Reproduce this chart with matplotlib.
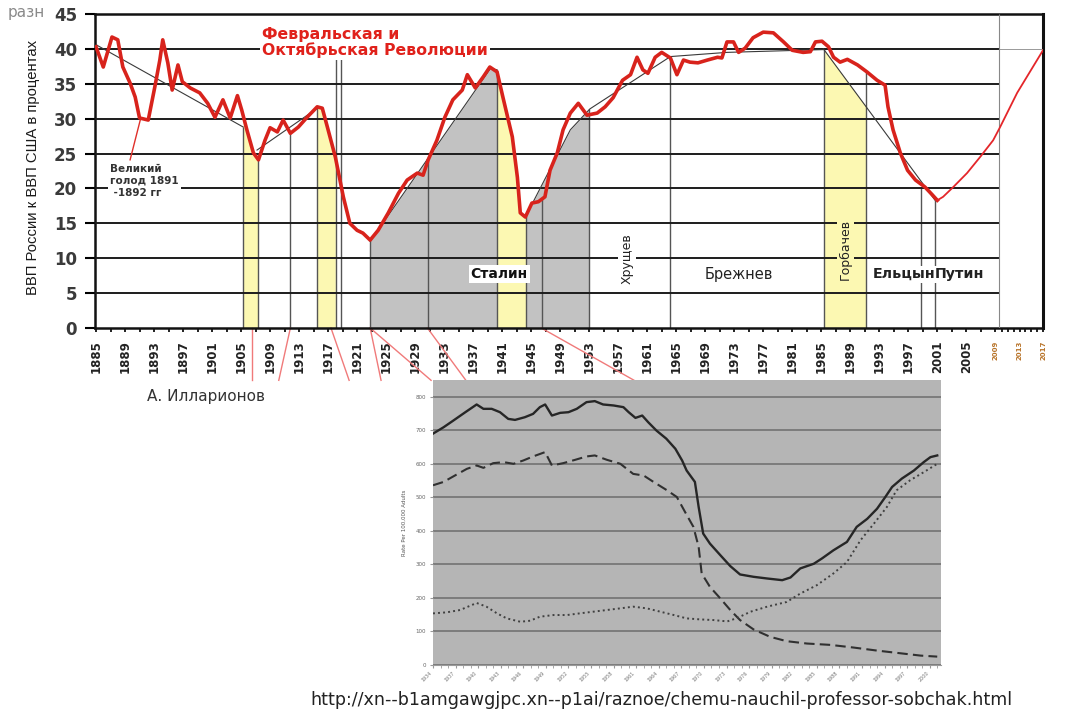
import numpy as np
import matplotlib.pyplot as plt

# --- top chart: GDP of Russia as % of US GDP (A. Illarionov) ---
ru_years = [1885, 1886, 1887.2, 1888, 1888.7, 1889.7, 1890.4, 1891, 1892.2, 1893.1,
            1893.8, 1894.2, 1894.9, 1895.5, 1896.3, 1896.9, 1898, 1899.3, 1900.4, 1901.4,
            1902.5, 1903.5, 1904.5, 1905.1, 1905.8, 1906.7, 1907.4, 1908.3, 1909, 1910,
            1910.8, 1911.8, 1912.9, 1914.1, 1915.5, 1916.2, 1916.9, 1918, 1919.1, 1920,
            1921, 1921.8, 1922.8, 1923.9, 1925.3, 1926.7, 1927.9, 1929.3, 1930.1, 1930.8,
            1932, 1933.1, 1934.2, 1935.5, 1936.2, 1937.3, 1938.4, 1939.3, 1940.3, 1941.1,
            1942.4, 1943.1, 1943.5, 1944.2, 1945.1, 1946, 1946.9, 1947.6, 1948.6, 1949.4,
            1950.4, 1951.5, 1952.7, 1954.1, 1955.2, 1956.3, 1957.6, 1958.7, 1959.6, 1960.4,
            1961.1, 1962.1, 1963, 1964.2, 1965.1, 1966, 1966.9, 1968, 1969.3, 1970.7,
            1971.3, 1972, 1972.9, 1973.6, 1974.5, 1975.6, 1977, 1978.4, 1979.8, 1981,
            1982.5, 1983.5, 1984.2, 1985.1, 1986, 1986.7, 1987.6, 1988.6, 1990, 1991.3,
            1992.7, 1993.8, 1994.2, 1994.9, 1995.9, 1996.9, 1998, 1999.3, 2000.3, 2001]
ru_vals = [40.3, 37.4, 41.7, 41.3, 37.4, 35.1, 33.1, 30.1, 29.8, 34.5,
           38.4, 41.3, 38.0, 34.1, 37.7, 35.3, 34.4, 33.7, 32.2, 30.2,
           32.7, 30.1, 33.3, 31.2, 28.4, 25.1, 24.1, 26.9, 28.7, 28.1,
           29.8, 27.9, 28.8, 30.2, 31.7, 31.5, 28.8, 24.5, 18.8, 15.0,
           14.0, 13.6, 12.6, 14.0, 16.5, 19.3, 21.2, 22.2, 21.9, 24.1,
           26.9, 30.2, 32.7, 34.1, 36.3, 34.4, 36.0, 37.4, 36.7, 33.1,
           27.4, 21.6, 16.5, 15.9, 17.9, 18.1, 18.8, 22.6, 25.1, 28.4,
           30.8, 32.2, 30.5, 30.8, 31.7, 33.0, 35.5, 36.3, 38.8, 37.0,
           36.5, 38.8, 39.5, 38.7, 36.3, 38.4, 38.1, 38.0, 38.4, 38.8,
           38.7, 41.0, 41.0, 39.5, 40.1, 41.6, 42.4, 42.3, 41.0, 39.8,
           39.5, 39.6, 41.0, 41.1, 40.3, 38.8, 38.1, 38.5, 37.7, 36.7,
           35.5, 34.8, 31.7, 28.4, 25.1, 22.6, 21.2, 20.2, 19.1, 18.3]
ru_years_late = [2001, 2001.8, 2003.2, 2005.1, 2006.9, 2008.7, 2009.7, 2012.6, 2017]
ru_vals_late = [18.3, 18.8, 20.2, 22.2, 24.5, 26.9, 28.8, 33.7, 39.8]

# trend lines (year list, value list)
trend_1 = ([1885, 1905.3], [40.6, 28.8])
trend_2 = ([1907.2, 1915.8], [25.5, 31.7])
trend_3 = ([1922.8, 1939.4, 1940.3], [12.4, 37.2, 37.0])
trend_4 = ([1944.2, 1950.4, 1953.1, 1964.2, 1972, 1985.3], [15.9, 28.4, 31.4, 38.9, 39.5, 39.9])
trend_6 = ([1985.3, 2000.7], [40.0, 18.3])

yellow_under_red = [(1905.3, 1907.3), (1915.5, 1918.0), (1940.3, 1944.3)]
yellow_under_trend = [(1985.4, 1991.2)]
grey_spans = [(1922.8, 1940.3, trend_3), (1944.3, 1953.0, trend_4)]

event_years = [1905.3, 1907.3, 1911.8, 1915.5, 1918.1, 1918.8, 1922.8, 1930.8, 1940.3,
               1944.3, 1946.5, 1953.0, 1964.2, 1985.4, 1991.2, 1998.7, 2000.7]
event_tops = [28.8, 24.5, 28.0, 31.7, 38.7, 38.7, 12.6, 24.0, 37.0,
              16.0, 18.5, 31.4, 39.0, 40.0, 36.7, 20.0, 18.3]

connector_top = [1906.5, 1911.8, 1917.4, 1922.8, 1922.8, 1930.7, 1946.4]
connector_bottom = [1906.5, 1910.2, 1919.9, 1924.3, 1931.2, 1936.0, 1959.2]

main_labels = list(range(1885, 2006, 4))
late_labels = [2009, 2013, 2017]

# --- bottom chart: rate per 100,000 adults ---
sol_x = [1934, 1935.4, 1936.7, 1938.3, 1939.8, 1940.7, 1941.8, 1942.9, 1944, 1944.9,
         1946.2, 1947.3, 1948.2, 1948.9, 1949.8, 1950.9, 1952, 1953.1, 1954.4, 1955.5,
         1956.6, 1958, 1959.3, 1960, 1960.9, 1961.8, 1962.6, 1963.7, 1965, 1966.2,
         1967.1, 1967.7, 1968.8, 1969.3, 1969.9, 1970.8, 1972.2, 1973.5, 1974.8, 1976.6,
         1978.4, 1980.4, 1981.5, 1982.8, 1984.6, 1985.7, 1987.2, 1989, 1990.3, 1991.7,
         1993, 1994.1, 1995, 1996.3, 1997.9, 1999.2, 2000.1, 2001]
sol_y = [690, 709, 729, 754, 777, 764, 764, 754, 734, 731,
         739, 749, 769, 777, 744, 752, 754, 764, 784, 787,
         777, 774, 769, 754, 737, 744, 724, 699, 675, 645,
         610, 580, 546, 471, 392, 362, 327, 295, 270, 263,
         258, 253, 261, 288, 302, 318, 342, 367, 412, 436,
         466, 501, 531, 556, 580, 605, 620, 625]
dash_x = [1934, 1935.4, 1936.9, 1938.5, 1939.8, 1940.7, 1942, 1943.4, 1944.7, 1946,
          1947.3, 1948.9, 1949.8, 1951.3, 1952.9, 1954.4, 1955.5, 1957.1, 1958.9, 1960.6,
          1962, 1963.3, 1965.1, 1966.4, 1967.5, 1968.6, 1969.3, 1969.7, 1970.8, 1972.2,
          1973.5, 1974.8, 1976.6, 1978.8, 1981, 1983.7, 1986.8, 1989.9, 1993, 1996.1,
          1998.8, 2001]
dash_y = [536, 546, 565, 585, 595, 588, 602, 605, 600, 610,
          622, 635, 595, 602, 612, 622, 625, 612, 600, 570,
          565, 546, 521, 501, 456, 412, 352, 273, 233, 198,
          164, 134, 106, 84, 71, 64, 60, 52, 43, 35,
          28, 25]
dot_x = [1934, 1935.8, 1937.6, 1939.8, 1941.1, 1942.5, 1943.8, 1945.6, 1946.9, 1948.2,
         1950, 1951.8, 1953.5, 1955.3, 1957.1, 1958.9, 1960.6, 1962.4, 1964.2, 1966,
         1967.7, 1969.5, 1971.3, 1973.1, 1974.4, 1976.2, 1978.4, 1981, 1982.8, 1985,
         1987.2, 1989, 1990.8, 1992.6, 1994.3, 1995.6, 1997.4, 1999.2, 2001]
dot_y = [154, 157, 164, 185, 174, 154, 139, 129, 132, 144,
         149, 149, 154, 159, 164, 169, 174, 169, 159, 149,
         139, 136, 134, 130, 140, 159, 174, 188, 213, 238,
         273, 307, 372, 422, 471, 521, 551, 575, 600]
bottom_labels = list(range(1934, 2001, 3))

RED = '#d8231c'
YELLOW = '#fcf8b2'
GREY_FILL = '#c2c2c2'
EVENT = '#555555'

# the last years are squeezed on the x axis
SPLIT = 2009.5
K = 0.81


def fwd(x):
    x = np.asarray(x, dtype=float)
    return np.where(x <= SPLIT, x, SPLIT + (x - SPLIT) * K)


def inv(x):
    x = np.asarray(x, dtype=float)
    return np.where(x <= SPLIT, x, SPLIT + (x - SPLIT) / K)


fig = plt.figure(figsize=(10.68, 7.11), dpi=100)
W, H = 1068, 711

ax = fig.add_axes([95 / W, (H - 328) / H, 948 / W, 314 / H])
ax.set_xscale('function', functions=(fwd, inv))
ax.set_xlim(1884.86, 2017)
ax.set_ylim(0, 45)

# fills
for a, b in yellow_under_red:
    xs = np.linspace(a, b, 40)
    ax.fill_between(xs, 0, np.interp(xs, ru_years, ru_vals), color=YELLOW, lw=0, zorder=1)
for a, b in yellow_under_trend:
    xs = np.linspace(a, b, 40)
    ax.fill_between(xs, 0, np.interp(xs, *trend_6), color=YELLOW, lw=0, zorder=1)
for a, b, tr in grey_spans:
    xs = np.linspace(a, b, 60)
    ax.fill_between(xs, 0, np.interp(xs, *tr), color=GREY_FILL, lw=0, zorder=1)

# grid
ax.hlines(range(5, 45, 5), 1884.86, SPLIT, color='#1c1c1c', lw=1.4, zorder=3)
ax.hlines(40, SPLIT, 2017, color='#999999', lw=0.7, zorder=3)
ax.vlines(SPLIT, 0, 45, color='#888888', lw=0.8, zorder=3)

# event lines
ax.vlines(event_years, 0, event_tops, color=EVENT, lw=1.0, zorder=2)

# trend lines
for tr in (trend_1, trend_2, trend_3, trend_4, trend_6):
    ax.plot(tr[0], tr[1], color='#3a3a3a', lw=0.8, zorder=4)

# red series
ax.plot(ru_years, ru_vals, color=RED, lw=2.6, zorder=6, solid_joinstyle='round')
ax.plot(ru_years_late, ru_vals_late, color='#e4262a', lw=1.3, zorder=6)

# connectors to the lower chart
for t, b in zip(connector_top, connector_bottom):
    ax.plot([t, b], [0, -7.5], color='#f07a7a', lw=1.0, clip_on=False, zorder=2)

# pointer for the famine note
ax.plot([1889.7, 1891.1], [24.1, 29.8], color='#e0302a', lw=1.0, zorder=5)

for s in ax.spines.values():
    s.set_color('#111111')
    s.set_linewidth(1.8)
ax.spines['right'].set_linewidth(2.2)

ax.set_yticks(range(0, 50, 5))
ax.tick_params(axis='y', length=7.5, width=1.5, pad=5.5, labelsize=12, labelcolor='#3a3a3a')
for lab in ax.get_yticklabels():
    lab.set_fontweight('bold')

ax.set_xticks(main_labels + late_labels)
ax.set_xticklabels([str(y) for y in main_labels + late_labels], rotation=90,
                   fontsize=8.5, fontweight='bold', color='#222222')
for lab in ax.get_xticklabels()[-3:]:
    lab.set_fontsize(5)
    lab.set_color('#b8742a')
ax.set_xticks(list(range(1885, 2010, 2)) + list(range(2010, 2018)), minor=True)
ax.tick_params(axis='x', which='both', length=3, width=1.3, pad=6, color='#111111')

ax.set_ylabel('ВВП России к ВВП США в процентах', family=['Liberation Sans', 'DejaVu Sans'],
              fontsize=10.7, color='#1a1a1a')
ax.yaxis.set_label_coords(-55 / 948, 0.51)

# labels inside the chart
white = dict(facecolor='white', edgecolor='none', pad=1.5)
ax.text(1907.9, 40.9, 'Февральская и\nОктябрьская Революции', color='#e0211b',
        fontsize=11.3, fontweight='bold', ha='left', va='center', linespacing=1.0,
        bbox=white, zorder=7)
ax.text(1886.9, 21.1, 'Великий\nголод 1891\n -1892 гг', color='#333333', fontsize=7.5,
        fontweight='bold', ha='left', va='center', linespacing=1.25, bbox=white, zorder=7)
ax.text(1940.6, 7.7, 'Сталин', fontsize=10, fontweight='bold', ha='center', va='center',
        color='#111111', bbox=white, zorder=7)
ax.text(1973.6, 7.7, 'Брежнев', fontsize=10.5, ha='center', va='center',
        color='#222222', bbox=white, zorder=7)
ax.text(2000.7, 7.7, 'Ельцын', fontsize=10.3, fontweight='bold', ha='right', va='center',
        color='#222222', bbox=dict(facecolor='white', edgecolor='none', pad=1), zorder=7)
ax.text(2000.7, 7.7, 'Путин', fontsize=10.3, fontweight='bold', ha='left', va='center',
        color='#222222', bbox=dict(facecolor='white', edgecolor='none', pad=1), zorder=7)
ax.text(1958.2, 9.9, 'Хрущев', fontsize=9, rotation=90, ha='center', va='center',
        color='#222222', bbox=white, zorder=7)
ax.text(1988.3, 11.2, 'Горбачев', fontsize=9, rotation=90, ha='center', va='center',
        color='#222222', bbox=dict(facecolor=YELLOW, edgecolor='none', pad=1.5), zorder=7)

fig.text(8 / W, 1 - 12 / H, 'разн', fontsize=11, color='#8a8a8a', va='center', ha='left')
fig.text(147 / W, 1 - 397 / H, 'А. Илларионов', fontsize=11, color='#333333',
         va='center', ha='left')
fig.text(310 / W, 1 - 700 / H,
         'http://xn--b1amgawgjpc.xn--p1ai/raznoe/chemu-nauchil-professor-sobchak.html',
         fontsize=12.6, color='#222222', va='center', ha='left')

# --- lower chart ---
ax2 = fig.add_axes([433 / W, (H - 665) / H, 508 / W, 285 / H])
ax2.set_facecolor('#b5b5b5')
ax2.set_xlim(1934, 2001.5)
ax2.set_ylim(0, 850)
ax2.set_yticks(range(0, 900, 100))
ax2.yaxis.grid(True, color='#7c7c7c', lw=1.4)
ax2.set_axisbelow(True)
for side in ('left', 'right', 'top'):
    ax2.spines[side].set_visible(False)
ax2.spines['bottom'].set_color('#9a9a9a')
ax2.spines['bottom'].set_linewidth(0.8)

ax2.plot(sol_x, sol_y, color='#262626', lw=1.7)
ax2.plot(dash_x, dash_y, color='#303030', lw=1.5, dashes=(5, 2.5))
ax2.plot(dot_x, dot_y, color='#404040', lw=1.4, dashes=(1, 1.6))

ax2.set_xticks(bottom_labels)
ax2.set_xticklabels([str(y) for y in bottom_labels], rotation=45, fontsize=3.5,
                    color='#777777', ha='right')
ax2.set_xticks(range(1934, 2002), minor=True)
ax2.tick_params(axis='x', which='both', length=2, color='#999999', pad=2)
ax2.tick_params(axis='y', length=2, color='#999999', labelsize=4, labelcolor='#666666', pad=3)
ax2.set_ylabel('Rate Per 100,000 Adults', fontsize=4, color='#555555', labelpad=6)

fig.savefig('out.png', dpi=100)
